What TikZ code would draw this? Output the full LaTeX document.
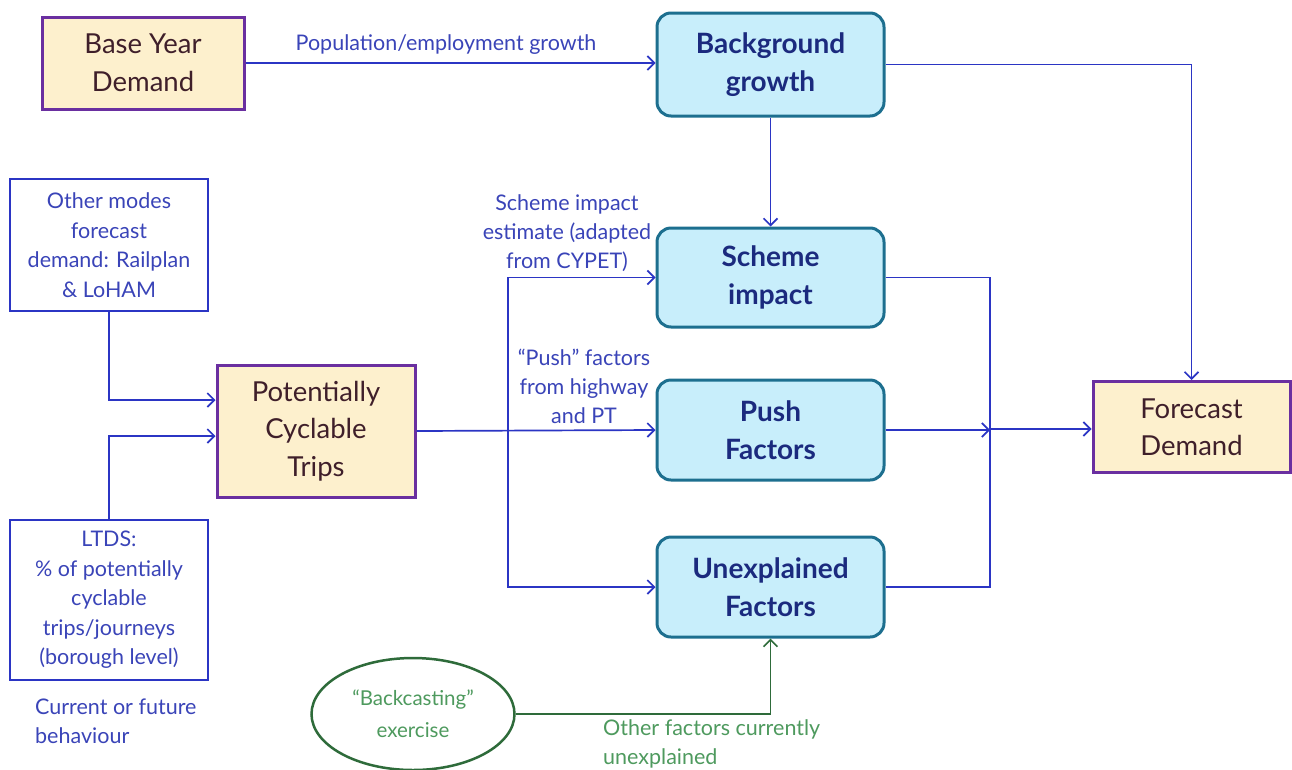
\documentclass[tikz,border=0pt]{standalone}
\usepackage{fontspec}
\setmainfont{Lato}
\usetikzlibrary{arrows.meta,shapes.geometric,calc}
\definecolor{yfill}{HTML}{FDF0CD}
\definecolor{pborder}{HTML}{6A2FA0}
\definecolor{cfill}{HTML}{C8EEFB}
\definecolor{tborder}{HTML}{1D6F8F}
\definecolor{lblue}{HTML}{2B35C4}
\definecolor{navy}{HTML}{1B2A7E}
\definecolor{brownt}{HTML}{3F1F2A}
\definecolor{labblue}{HTML}{3A44B8}
\definecolor{gline}{HTML}{2E6B3A}
\definecolor{gtext}{HTML}{4E9A5E}
\tikzset{
  ybox/.style={draw=pborder, line width=3pt, fill=yfill, align=center, text=brownt,
    font=\fontsize{27.5}{37.5}\selectfont, inner sep=0pt},
  cbox/.style={draw=tborder, line width=3pt, fill=cfill, rounded corners=14pt, align=center,
    text=navy, font=\fontsize{28}{38.5}\selectfont\bfseries, inner sep=0pt,
    minimum width=227pt},
  wbox/.style={draw=lblue, line width=2.5pt, fill=white, align=center, text=labblue,
    font=\fontsize{21.5}{29.5}\selectfont, inner sep=0pt, minimum width=198pt},
  lab/.style={text=labblue, align=center, font=\fontsize{21.5}{29}\selectfont, inner sep=0pt},
  conn/.style={draw=lblue, line width=1.7pt},
  arr/.style={conn, -{Straight Barb[length=7pt,width=14pt,line width=1.7pt]}},
  garr/.style={draw=gline, line width=1.7pt, -{Straight Barb[length=7pt,width=14pt,line width=1.7pt]}},
}
\begin{document}
\begin{tikzpicture}[x=1pt,y=-1pt]
\useasboundingbox[fill=white] (0,0) rectangle (1292,769);

% nodes
\node[ybox, minimum width=202pt, minimum height=92pt] (base) at (143,63) {\raisebox{-3pt}{Base Year}\\\raisebox{-3pt}{Demand}};
\node[cbox, minimum height=103pt] (bg) at (770.5,64.5) {\raisebox{-2pt}{Background}\\\raisebox{-2pt}{growth}};
\node[cbox, minimum height=99pt] (sch) at (770.5,277.5) {Scheme\\impact};
\node[cbox, minimum height=100pt] (push) at (770.5,430) {Push\\Factors};
\node[cbox, minimum height=100pt] (unex) at (770.5,587) {Unexplained\\Factors};
\node[ybox, minimum width=197pt, minimum height=91pt] (fc) at (1191.5,427) {Forecast\\Demand};
\node[wbox, minimum height=132pt] (other) at (109,245) {Other modes\\forecast\\demand: Railplan\\\& LoHAM};
\node[ybox, minimum width=198pt, minimum height=132pt] (pot) at (316,431) {Potentially\\Cyclable\\Trips};
\node[wbox, minimum height=160pt] (ltds) at (109,600) {LTDS:\\\% of potentially\\cyclable\\trips/journeys\\(borough level)};
\node[ellipse, draw=gline, line width=2.5pt, minimum width=203pt, minimum height=112pt, inner sep=0pt,
  text=gtext, align=center, font=\fontsize{20.5}{32}\selectfont] (ell) at (413,714) {“Backcasting”\\exercise};

% labels
\node[lab] (lpop) at (446,45) {Population/employment growth};
\node[lab] (lsch) at (567,233) {Scheme impact\\estimate (adapted\\from CYPET)};
\node[lab] (lpush) at (584,386) {“Push” factors\\from highway\\and PT};
\node[lab, align=left, anchor=west] (lcur) at (35,721) {Current or future\\behaviour};
\node[lab, align=left, anchor=west, text=gtext] (loth) at (603,744) {Other factors currently\\unexplained};

% junctions
\coordinate (j1) at (508,431);
\coordinate (j2) at (990,429);

% connectors
\draw[arr] (base.east) -- (bg.west |- base.east);
\draw[arr] (bg.east) -| (fc.north);
\draw[arr] (bg.south) -- (sch.north);
\draw[arr] (other.south) |- (pot.west |- 0,400);
\draw[arr] (ltds.north) |- (pot.west |- 0,436);
\draw[arr] (pot.east) -- (push.west);
\draw[arr] (j1) |- (sch.west);
\draw[arr] (j1) |- (unex.west);
\draw[conn] (sch.east) -| (j2);
\draw[conn] (unex.east) -| (j2);
\draw[arr] (push.east) -- (j2 |- push.east);
\draw[arr] (j2) -- (fc.west |- j2);
\draw[garr] (ell.east) -| (unex.south);
\end{tikzpicture}
\end{document}
